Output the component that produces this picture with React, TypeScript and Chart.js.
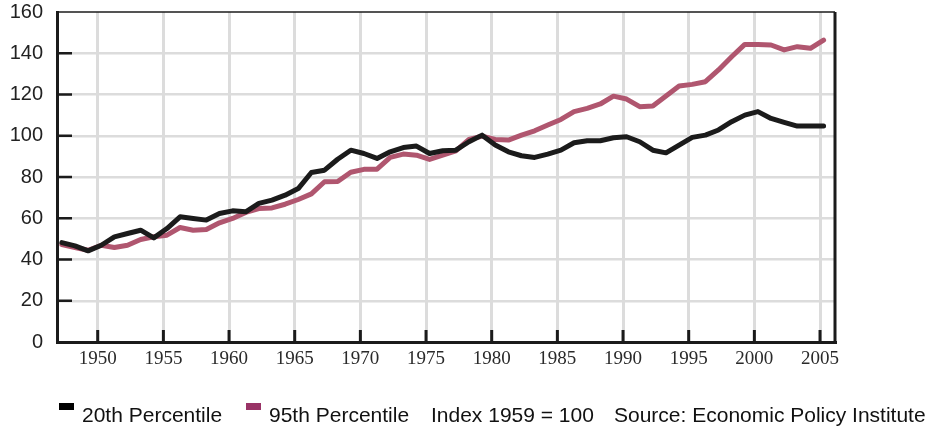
import React, { useEffect, useRef } from "react";
import { Chart, registerables } from "chart.js";

Chart.register(...registerables);

const years = [
  1947, 1948, 1949, 1950, 1951, 1952, 1953, 1954, 1955, 1956, 1957, 1958, 1959,
  1960, 1961, 1962, 1963, 1964, 1965, 1966, 1967, 1968, 1969, 1970, 1971, 1972,
  1973, 1974, 1975, 1976, 1977, 1978, 1979, 1980, 1981, 1982, 1983, 1984, 1985,
  1986, 1987, 1988, 1989, 1990, 1991, 1992, 1993, 1994, 1995, 1996, 1997, 1998,
  1999, 2000, 2001, 2002, 2003, 2004, 2005,
];

const p20 = [
  48.2, 46.6, 44.2, 46.9, 51.0, 52.6, 54.2, 50.5, 55.0, 60.7, 59.9, 59.1, 62.3,
  63.6, 63.1, 67.2, 68.8, 71.2, 74.4, 82.2, 83.3, 88.6, 93.0, 91.4, 89.0, 92.2,
  94.3, 95.0, 91.4, 92.7, 93.0, 97.1, 100.3, 95.5, 92.2, 90.3, 89.5, 91.1, 93.0,
  96.6, 97.6, 97.6, 99.0, 99.5, 97.1, 93.0, 91.7, 95.5, 99.2, 100.3, 102.8, 106.8,
  110.0, 111.7, 108.4, 106.5, 104.7, 104.7, 104.7,
];

const p95 = [
  47.2, 45.8, 44.5, 46.9, 45.8, 46.9, 49.7, 51.0, 51.8, 55.5, 54.2, 54.5, 57.8,
  59.9, 62.8, 64.7, 65.0, 66.8, 69.1, 71.8, 77.7, 77.8, 82.3, 83.7, 83.8, 89.5,
  91.1, 90.6, 88.5, 90.6, 92.7, 98.2, 99.8, 98.2, 97.9, 100.3, 102.4, 105.2, 107.9,
  111.7, 113.3, 115.4, 119.2, 117.8, 114.1, 114.4, 119.3, 124.1, 124.9, 126.2, 131.9, 138.3,
  144.3, 144.3, 144.0, 141.6, 143.2, 142.4, 146.4,
];

const xTickYears = [1950, 1955, 1960, 1965, 1970, 1975, 1980, 1985, 1990, 1995, 2000, 2005];
const yTickValues = [20, 40, 60, 80, 100, 120, 140];

const seriesNames = ["20th Percentile", "95th Percentile"];
const legendExtras = ["Index 1959 = 100", "Source: Economic Policy Institute"];

const BLACK = "#1b1b1b";
const PINK_LINE = "#b0566f";
const PINK_KEY = "#993366";
const GRID = "#dcdcdc";

const frame = {
  id: "frame",
  afterDatasetsDraw(chart: any) {
    const { ctx, chartArea, scales } = chart;
    const { left, right, top, bottom } = chartArea;
    ctx.save();
    ctx.strokeStyle = BLACK;
    // top border
    ctx.lineWidth = 1.5;
    ctx.beginPath();
    ctx.moveTo(left, top);
    ctx.lineTo(right, top);
    ctx.stroke();
    // right border
    ctx.lineWidth = 3;
    ctx.beginPath();
    ctx.moveTo(right, top);
    ctx.lineTo(right, bottom + 1.5);
    ctx.stroke();
    // inward y ticks
    ctx.lineWidth = 2.5;
    for (const v of yTickValues) {
      const y = scales.y.getPixelForValue(v);
      ctx.beginPath();
      ctx.moveTo(left, y);
      ctx.lineTo(left + 15, y);
      ctx.stroke();
    }
    // inward x ticks
    ctx.lineWidth = 3;
    for (const v of xTickYears) {
      const x = scales.x.getPixelForValue(v);
      ctx.beginPath();
      ctx.moveTo(x, bottom);
      ctx.lineTo(x, bottom - 12);
      ctx.stroke();
    }
    ctx.restore();
  },
};

export default function App() {
  const ref = useRef<HTMLCanvasElement | null>(null);

  useEffect(() => {
    document.body.style.margin = "0";
    const canvas = ref.current;
    if (!canvas) return;
    const chart = new Chart(canvas, {
      type: "line",
      data: {
        datasets: [
          {
            label: seriesNames[0],
            data: years.map((yr, i) => ({ x: yr + 0.27, y: p20[i] })),
            borderColor: BLACK,
            borderWidth: 5,
            pointRadius: 0,
            tension: 0,
            borderCapStyle: "round",
            borderJoinStyle: "round",
          },
          {
            label: seriesNames[1],
            data: years.map((yr, i) => ({ x: yr + 0.27, y: p95[i] })),
            borderColor: PINK_LINE,
            borderWidth: 5,
            pointRadius: 0,
            tension: 0,
            borderCapStyle: "round",
            borderJoinStyle: "round",
          },
        ],
      },
      options: {
        animation: false,
        responsive: false,
        maintainAspectRatio: false,
        devicePixelRatio: 1,
        layout: { padding: { top: 12, right: 95, left: 0, bottom: 0 } },
        plugins: {
          legend: { display: false },
          tooltip: { enabled: false },
        },
        scales: {
          x: {
            type: "linear",
            min: 1946.9,
            max: 2006.14,
            afterBuildTicks: (scale: any) => {
              scale.ticks = xTickYears.map((v) => ({ value: v }));
            },
            afterFit: (scale: any) => {
              scale.height = 86;
              scale.paddingLeft = 0;
              scale.paddingRight = 0;
            },
            grid: {
              color: GRID,
              lineWidth: 3,
              drawTicks: false,
            },
            border: { color: BLACK, width: 3 },
            ticks: {
              padding: 6,
              autoSkip: false,
              maxRotation: 0,
              color: "#2a2a2a",
              font: { family: "'Liberation Serif', 'Times New Roman', serif", size: 19 },
              callback: (v: any) => String(v),
            },
          },
          y: {
            min: 0,
            max: 160,
            afterFit: (scale: any) => {
              scale.width = 57;
              scale.paddingTop = 0;
              scale.paddingBottom = 0;
            },
            grid: {
              color: (c: any) => (c.tick && c.tick.value === 160 ? "rgba(0,0,0,0)" : GRID),
              lineWidth: 2.5,
              drawTicks: false,
            },
            border: { color: BLACK, width: 3 },
            ticks: {
              stepSize: 20,
              padding: 14,
              color: "#222",
              font: { family: "'Liberation Sans', Arial, sans-serif", size: 20, lineHeight: 1.2 },
            },
          },
        },
      },
      plugins: [frame],
    });
    return () => chart.destroy();
  }, []);

  const textStyle: React.CSSProperties = {
    position: "absolute",
    top: 404,
    fontFamily: "'Liberation Sans', Arial, sans-serif",
    fontSize: 21,
    lineHeight: "21px",
    color: "#111",
    whiteSpace: "nowrap",
  };
  const keyStyle = (color: string, left: number): React.CSSProperties => ({
    position: "absolute",
    left,
    top: 403,
    width: 15,
    height: 7,
    background: color,
  });

  return (
    <div style={{ position: "relative", width: 930, height: 428, background: "#fff", overflow: "hidden" }}>
      <canvas ref={ref} width={930} height={428} style={{ display: "block", width: 930, height: 428 }} />
      <div style={keyStyle("#000", 59)} />
      <span style={{ ...textStyle, left: 82 }}>{seriesNames[0]}</span>
      <div style={keyStyle(PINK_KEY, 246)} />
      <span style={{ ...textStyle, left: 269 }}>{seriesNames[1]}</span>
      <span style={{ ...textStyle, left: 431 }}>{legendExtras[0]}</span>
      <span style={{ ...textStyle, left: 614 }}>{legendExtras[1]}</span>
    </div>
  );
}
